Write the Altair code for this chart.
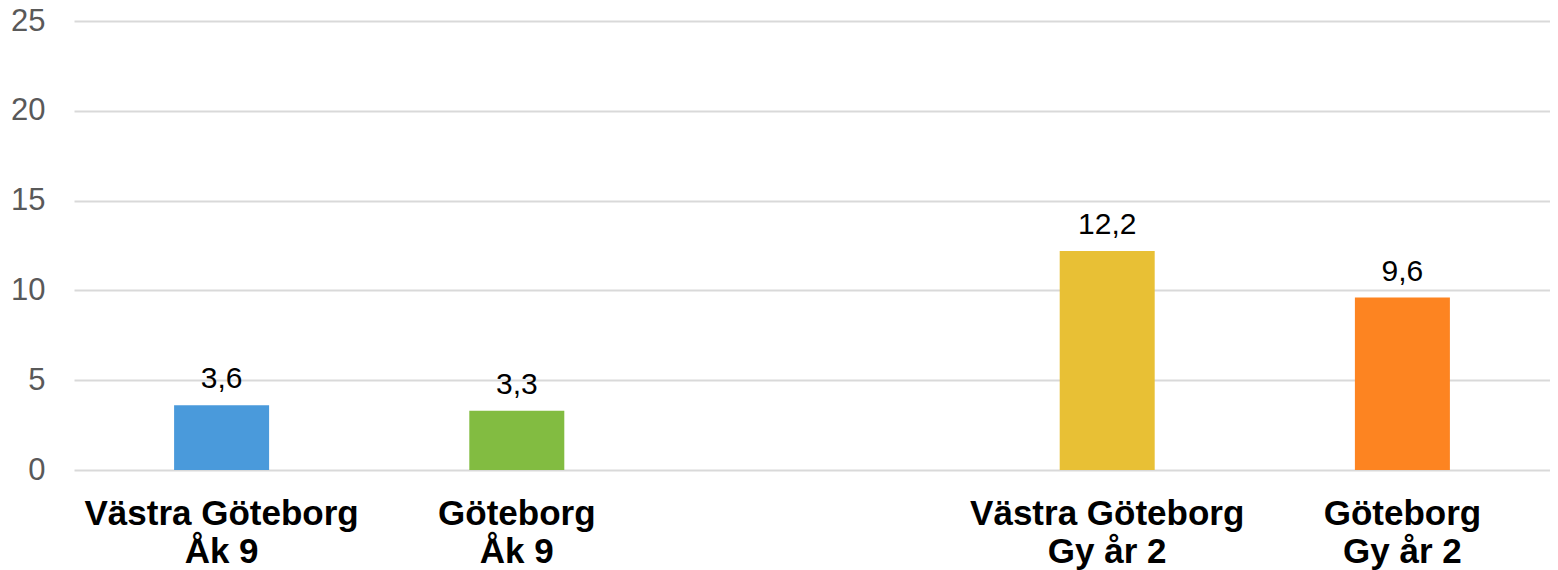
import altair as alt
import pandas as pd

categories = ["Västra Göteborg|Åk 9", "Göteborg|Åk 9", " ", "Västra Göteborg|Gy år 2", "Göteborg|Gy år 2"]
bar_categories = ["Västra Göteborg|Åk 9", "Göteborg|Åk 9", "Västra Göteborg|Gy år 2", "Göteborg|Gy år 2"]
values = [3.6, 3.3, 12.2, 9.6]
colors = ["#4A9ADB", "#82BC41", "#E8C035", "#FD8421"]
y_ticks = [0, 5, 10, 15, 20, 25]

df = pd.DataFrame({"cat": bar_categories, "v": values, "color": colors})

base = alt.Chart(df).transform_calculate(
    lbl="replace(format(datum.v, '.1f'), '.', ',')"
)

x = alt.X(
    "cat:N",
    scale=alt.Scale(domain=categories, paddingInner=0, paddingOuter=0),
    sort=None,
    axis=alt.Axis(
        title=None,
        labelAngle=0,
        labelExpr="split(datum.label, '|')",
        labelFont="Liberation Sans",
        labelFontSize=35,
        labelFontWeight="bold",
        labelColor="#000000",
        labelLineHeight=38,
        labelPadding=26,
        labelBaseline="top",
        labelLimit=0,
        domain=False,
        ticks=False,
        grid=False,
    ),
)

y = alt.Y(
    "v:Q",
    scale=alt.Scale(domain=[0, 25], nice=False),
    axis=alt.Axis(
        title=None,
        values=y_ticks,
        labelFont="Liberation Sans",
        labelFontSize=31,
        labelColor="#595959",
        labelPadding=29,
        domain=False,
        ticks=False,
        grid=True,
        gridColor="#D9D9D9",
        gridWidth=2,
    ),
)

bars = base.mark_bar(size=95).encode(
    x=x,
    y=y,
    color=alt.Color("color:N", scale=None, legend=None),
)

texts = base.mark_text(
    baseline="alphabetic",
    dy=-17,
    font="Liberation Sans",
    fontSize=30,
    color="#000000",
).encode(x=x, y="v:Q", text="lbl:N")

chart = (bars + texts).properties(
    width=1476,
    height=449,
    autosize=alt.AutoSizeParams(type="none"),
    padding={"left": 66, "top": 13, "right": 0, "bottom": 100},
).configure(background="#FFFFFF").configure_view(stroke=None)

chart.save("out.html", embed_options={"renderer": "svg", "actions": False})
